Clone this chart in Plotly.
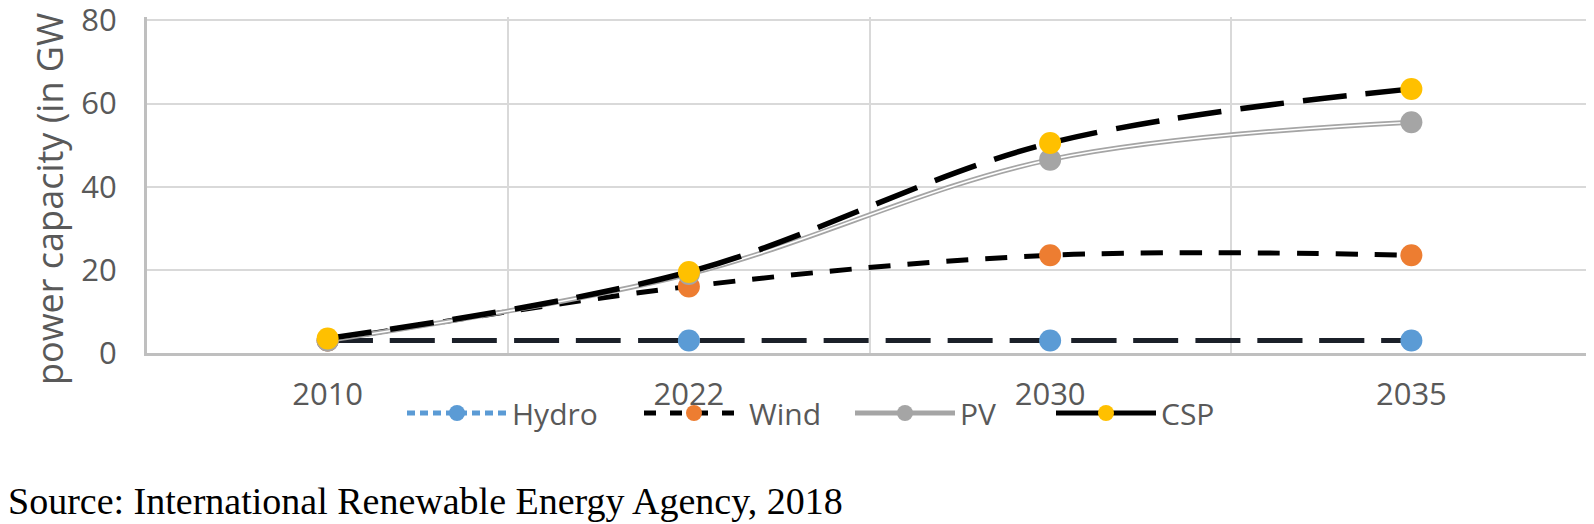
import plotly.graph_objects as go

years = ["2010", "2022", "2030", "2035"]
hydro = [3, 3, 3, 3]
wind = [3, 16, 23.5, 23.5]
pv = [3, 19, 46.5, 55.5]
csp = [3.5, 19.5, 50.5, 63.5]

series_names = ["Hydro", "Wind", "PV", "CSP"]
y_ticks = [0, 20, 40, 60, 80]
y_title = "power capacity (in GW"
source_text = "Source: International Renewable Energy Agency, 2018"

# page has an 8px body margin: figure is drawn 8px right/down
OFF = 8
W, H = 1594 - OFF, 524 - OFF
L, R, T, B = 139, 2, 9, 171
pw = W - L - R
ph = H - T - B
PLOT_LEFT_PAGE = L + OFF
PLOT_BOTTOM_PAGE = H - B + OFF


def px_x(p):  # page px -> paper
    return (p - PLOT_LEFT_PAGE) / pw


def px_y(p):  # page px -> paper
    return (PLOT_BOTTOM_PAGE - p) / ph


BLUE, ORANGE, GRAY, YELLOW = "#5b9bd5", "#ed7d31", "#a5a5a5", "#ffc000"
MS = 22
fig = go.Figure()

# plotted series (no legend)
fig.add_trace(go.Scatter(x=years, y=hydro, mode="lines+markers", showlegend=False,
                         line=dict(color="#1b2029", width=5, dash="45px,17px", shape="spline"),
                         marker=dict(color=BLUE, size=MS)))
fig.add_trace(go.Scatter(x=years, y=wind, mode="lines+markers", showlegend=False,
                         line=dict(color="black", width=5, dash="22px,17px", shape="spline"),
                         marker=dict(color=ORANGE, size=MS)))
fig.add_trace(go.Scatter(x=years, y=pv, mode="lines", showlegend=False,
                         line=dict(color=GRAY, width=5, shape="spline")))
fig.add_trace(go.Scatter(x=years, y=pv, mode="lines+markers", showlegend=False,
                         line=dict(color="white", width=1.6, shape="spline"),
                         marker=dict(color=GRAY, size=MS)))
fig.add_trace(go.Scatter(x=years, y=csp, mode="lines+markers", showlegend=False,
                         line=dict(color="black", width=5.5, dash="44px,19px", shape="spline"),
                         marker=dict(color=YELLOW, size=MS)))

# legend entries
leg_styles = [
    dict(line=dict(color=BLUE, width=5, dash="8px,5px"), marker=dict(color=BLUE, size=MS)),
    dict(line=dict(color="black", width=5, dash="12px,14px"), marker=dict(color=ORANGE, size=MS)),
    dict(line=dict(color=GRAY, width=5), marker=dict(color=GRAY, size=MS)),
    dict(line=dict(color="black", width=5), marker=dict(color=YELLOW, size=MS)),
]
leg_names = ["legend", "legend2", "legend3", "legend4"]
text_starts = [513, 750, 961, 1162]
for name, st, ln in zip(series_names, leg_styles, leg_names):
    fig.add_trace(go.Scatter(x=[None], y=[None], mode="lines+markers", name=name,
                             legend=ln, showlegend=True, **st))

leg_common = dict(orientation="h", yanchor="middle", xanchor="left",
                  y=px_y(413), bgcolor="rgba(0,0,0,0)", itemwidth=100,
                  font=dict(family="Open Sans", size=30, color="#595959"),
                  borderwidth=0)
layout_legends = {}
for ln, ts in zip(leg_names, text_starts):
    layout_legends[ln] = dict(x=px_x(ts - 119 + OFF), **leg_common)

fig.update_layout(
    width=W, height=H,
    margin=dict(l=L, r=R, t=T, b=B, autoexpand=False),
    paper_bgcolor="white", plot_bgcolor="white",
    font=dict(family="Open Sans", color="#595959"),
    xaxis=dict(type="category", range=[-0.5, 3.5], tickson="boundaries",
               showgrid=True, gridcolor="#d9d9d9", gridwidth=2,
               showline=True, linecolor="#bfbfbf", linewidth=3,
               ticks="", ticklabelstandoff=12, automargin=False,
               tickfont=dict(family="Open Sans", size=31, color="#595959")),
    yaxis=dict(range=[0, 80.8], tickvals=y_ticks, showgrid=True, gridcolor="#d9d9d9", gridwidth=2,
               showline=True, linecolor="#bfbfbf", linewidth=3, zeroline=False,
               ticks="", ticklabelstandoff=21, ticklabeloverflow="allow", automargin=False,
               tickfont=dict(family="Open Sans", size=31, color="#595959")),
    annotations=[
        dict(text=y_title, textangle=-90, xref="paper", yref="paper",
             x=px_x(49), y=px_y(199), xanchor="center", yanchor="middle", showarrow=False,
             font=dict(family="Open Sans", size=36, color="#595959")),
        dict(text=source_text, xref="paper", yref="paper", x=px_x(6), y=px_y(501),
             xanchor="left", yanchor="middle", showarrow=False,
             font=dict(family="Liberation Serif", size=38, color="black")),
    ],
    **layout_legends,
)

fig.write_html("out.html")
